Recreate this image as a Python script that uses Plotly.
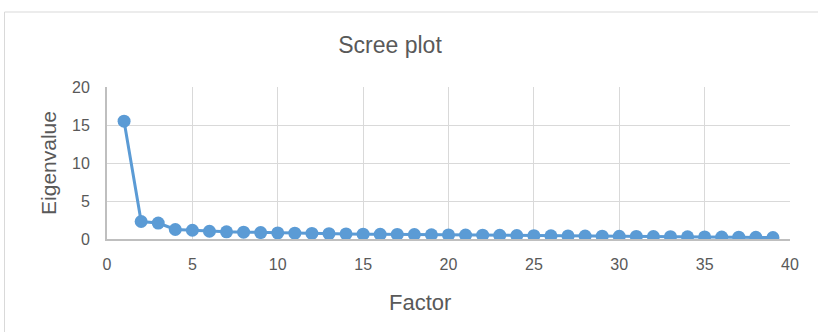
import plotly.graph_objects as go

factors = list(range(1, 40))
eigenvalues = [15.5, 2.3, 2.1, 1.25, 1.15, 1.02, 0.95, 0.9, 0.85, 0.8, 0.76, 0.73,
               0.7, 0.67, 0.64, 0.62, 0.6, 0.58, 0.56, 0.54, 0.52, 0.5, 0.48, 0.46,
               0.44, 0.42, 0.41, 0.39, 0.37, 0.35, 0.34, 0.32, 0.3, 0.29, 0.27,
               0.25, 0.24, 0.22, 0.2]
x_ticks = [0, 5, 10, 15, 20, 25, 30, 35, 40]
y_ticks = [0, 5, 10, 15, 20]

FONT = "Liberation Sans, Arial"
GREY = "#595959"

fig = go.Figure(go.Scatter(
    x=factors, y=eigenvalues, mode="lines+markers",
    line=dict(color="#5B9BD5", width=3),
    marker=dict(color="#5B9BD5", size=13),
))

tick_font = dict(family=FONT, size=16, color=GREY)
fig.update_layout(
    width=818, height=332,
    margin=dict(l=107, r=28, t=87, b=93),
    paper_bgcolor="white", plot_bgcolor="white",
    showlegend=False,
    title=dict(text="Scree plot", x=390/818, xanchor="center", y=1 - 45/332, yanchor="middle",
               font=dict(family=FONT, size=23, color=GREY)),
    xaxis=dict(range=[0, 40], tickvals=x_ticks,
               showgrid=True, gridcolor="#D9D9D9", gridwidth=1,
               showline=True, linecolor="#BFBFBF", linewidth=2,
               zeroline=False, tickfont=tick_font, ticks="", ticklabelstandoff=10),
    yaxis=dict(range=[0, 20], tickvals=y_ticks,
               showgrid=True, gridcolor="#D9D9D9", gridwidth=1,
               showline=True, linecolor="#BFBFBF", linewidth=2,
               zeroline=False, tickfont=tick_font, ticks="", ticklabelstandoff=12,
               title=dict(text="Eigenvalue", font=dict(family=FONT, size=21, color=GREY),
                          standoff=10)),
    annotations=[dict(text="Factor", xref="paper", yref="paper",
                      x=(419.5 - 107) / 683, y=-(302 - 239) / 152,
                      xanchor="center", yanchor="middle", showarrow=False,
                      font=dict(family=FONT, size=22, color=GREY))],
    shapes=[dict(type="rect", xref="paper", yref="paper",
                 x0=-102.5/683, x1=1.1, y0=-1.0, y1=1 + 75/152,
                 line=dict(color="#D9D9D9", width=1), fillcolor="rgba(0,0,0,0)", layer="below")],
)

fig.write_html("out.html", config={"displayModeBar": False},
               post_script="document.body.style.margin='0';")
